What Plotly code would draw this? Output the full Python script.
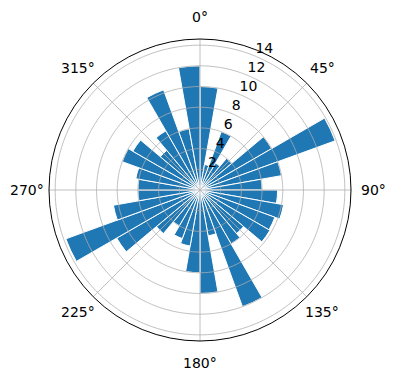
import math
import plotly.graph_objects as go

# bar centres (degrees, clockwise from north) and bar heights
angles = [5 + 10 * k for k in range(36)]
radii = [
    10, 2.5, 6, 3, 4, 8, 13.9, 8, 6,         # 0-90
    7.5, 8.2, 7.7, 7.8, 5.5, 6, 12, 4.5, 10,  # 90-180
    8, 5.5, 5, 4, 5.5, 9.3, 13.8, 8.5, 6,     # 180-270
    6, 6.3, 8, 7.5, 5, 6.6, 10.3, 6, 12,      # 270-360
]
ang_ticks = [0, 45, 90, 135, 180, 225, 270, 315]
ang_labels = [f"{a}°" for a in ang_ticks]
r_ticks = [2, 4, 6, 8, 10, 12, 14]
r_labels = [str(v) for v in r_ticks]
r_label_angle = 22.5
r_max = 1.05 * max(radii)

W, H = 396, 380
CX, CY, RAD = 200, 190, 151          # polar area centre / radius in px
LABEL_R = 173                         # angular labels centred on this radius

grid = "#b0b0b0"
fig = go.Figure()
fig.add_trace(go.Barpolar(
    r=radii, theta=angles, width=[10] * len(angles),
    marker=dict(color="#1f77b4", line=dict(color="white", width=1)),
))
# grid drawn above the bars, as matplotlib does
circle_theta = list(range(0, 361))
for rt in r_ticks:
    fig.add_trace(go.Scatterpolar(
        r=[rt] * len(circle_theta), theta=circle_theta, mode="lines",
        line=dict(color=grid, width=0.8), hoverinfo="skip",
    ))
for at in ang_ticks:
    fig.add_trace(go.Scatterpolar(
        r=[0, r_max], theta=[at, at], mode="lines",
        line=dict(color=grid, width=0.8), hoverinfo="skip",
    ))
# radial tick labels
fig.add_trace(go.Scatterpolar(
    r=r_ticks, theta=[r_label_angle] * len(r_ticks), mode="text",
    text=r_labels, textposition="top right",
    textfont=dict(family="DejaVu Sans", size=14, color="black"),
    hoverinfo="skip", cliponaxis=False,
))

# angular tick labels, centred on a circle just outside the plot
annotations = []
for a, lab in zip(ang_ticks, ang_labels):
    t = math.radians(a)
    annotations.append(dict(
        text=lab, showarrow=False, xref="paper", yref="paper",
        x=(CX + LABEL_R * math.sin(t)) / W,
        y=(H - CY + LABEL_R * math.cos(t)) / H,
        xanchor="center", yanchor="middle",
        font=dict(family="DejaVu Sans", size=14, color="black"),
    ))

fig.update_layout(
    width=W, height=H,
    margin=dict(l=0, r=0, t=0, b=0),
    paper_bgcolor="white",
    showlegend=False,
    annotations=annotations,
    font=dict(family="DejaVu Sans", size=14, color="black"),
    polar=dict(
        domain=dict(x=[(CX - RAD) / W, (CX + RAD) / W],
                    y=[(H - CY - RAD) / H, (H - CY + RAD) / H]),
        bgcolor="white",
        bargap=0,
        angularaxis=dict(
            rotation=90, direction="clockwise",
            tickmode="array", tickvals=ang_ticks,
            showgrid=False, showticklabels=False,
            showline=True, linecolor="black", linewidth=1,
            ticks="",
            layer="above traces",
        ),
        radialaxis=dict(
            range=[0, r_max], angle=67.5,
            tickmode="array", tickvals=r_ticks,
            showgrid=False, showticklabels=False,
            showline=False, ticks="",
            layer="above traces",
        ),
    ),
)
fig.write_html("out.html")
